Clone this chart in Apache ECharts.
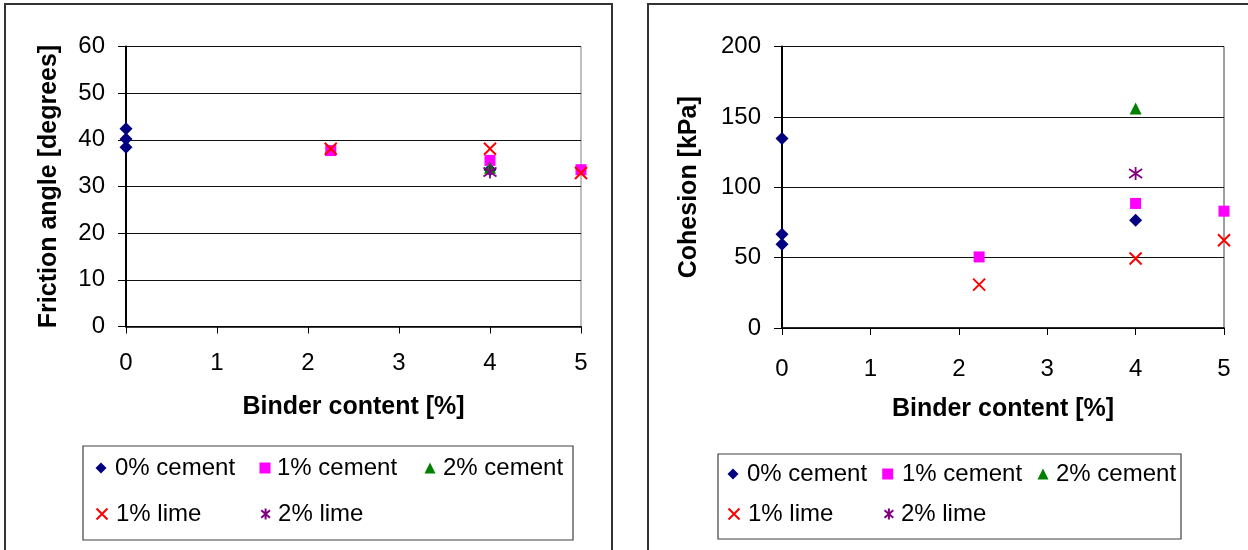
<!DOCTYPE html>
<html><head><meta charset="utf-8">
<script src="https://cdn.jsdelivr.net/npm/echarts@6/dist/echarts.min.js"></script>
<style>html,body{margin:0;padding:0;background:#fff}#c{width:1248px;height:550px}</style>
</head><body><div id="c"></div>
<script>
// ---------- DATA ----------
const seriesNames = ['0% cement', '1% cement', '2% cement', '1% lime', '2% lime'];
const xTicks = [0, 1, 2, 3, 4, 5];
const frictionTicks = [0, 10, 20, 30, 40, 50, 60];
const cohesionTicks = [0, 50, 100, 150, 200];
const xTitle = 'Binder content [%]';
const frictionTitle = 'Friction angle [degrees]';
const cohesionTitle = 'Cohesion [kPa]';

// Friction angle [degrees] vs binder content [%]
const fric0Cement = [[4, 33.6], [0, 42.4], [0, 40.2], [0, 38.4]];
const fric1Cement = [[2.25, 37.7], [4, 35.6], [5, 33.6]];
const fric2Cement = [[4, 34.0]];
const fric1Lime   = [[2.25, 38.1], [4, 38.1], [5, 32.9]];
const fric2Lime   = [[4, 33.1]];

// Cohesion [kPa] vs binder content [%]
const coh0Cement = [[0, 134.7], [0, 66.6], [0, 59.5], [4, 76.6]];
const coh1Cement = [[2.23, 50.5], [4, 88.5], [5, 83.0]];
const coh2Cement = [[4, 156.0]];
const coh1Lime   = [[2.23, 30.8], [4, 49.4], [5, 62.4]];
const coh2Lime   = [[4, 109.8]];

const frictionData = [fric0Cement, fric1Cement, fric2Cement, fric1Lime, fric2Lime];
const cohesionData = [coh0Cement, coh1Cement, coh2Cement, coh1Lime, coh2Lime];

// ---------- STYLE ----------
const FONT = "'Liberation Sans', Arial, sans-serif";
const markerStyles = [
  {symbol: 'diamond', symbolSize: 13, itemStyle: {color: '#000080', opacity: 1}},
  {symbol: 'rect', symbolSize: 11, itemStyle: {color: '#FF00FF', opacity: 1}},
  {symbol: 'triangle', symbolSize: 12, itemStyle: {color: '#008000', opacity: 1}},
  {symbol: 'path://M0,0L10,10M10,0L0,10', symbolSize: 12,
   itemStyle: {color: 'rgba(0,0,0,0)', borderColor: '#FF0000', borderWidth: 2, opacity: 1}},
  {symbol: 'path://M5,0L5,10M1,1.5L9,8.5M9,1.5L1,8.5', symbolSize: 13,
   itemStyle: {color: 'rgba(0,0,0,0)', borderColor: '#800080', borderWidth: 1.8, opacity: 1}}
];

// legend layout: [iconCenterX, rowCenterY, textPadLeft]
const legendLayoutLeft  = [[101, 468, 3.5], [265, 468, 1.5], [430, 468, 2.5], [101, 514, 3.5], [265.7, 514, 2]];
const legendLayoutRight = [[733, 474, 3.5], [887.7, 474, 3.8], [1043, 474, 2.5], [733, 514, 3.5], [889, 514, 1.5]];

function makeLegends(layout) {
  return layout.map((p, i) => ({
    data: [seriesNames[i]],
    left: p[0] - 5.5,
    top: p[1] - 12,
    padding: 0,
    itemWidth: 11,
    itemHeight: 11,
    selectedMode: false,
    itemStyle: {opacity: 1},
    textStyle: {fontFamily: FONT, fontSize: 24, color: '#000', lineHeight: 24, padding: [0, 0, 0, p[2]]}
  }));
}

function makeX(idx, nameGap, labelMargin) {
  return {
    type: 'value', gridIndex: idx,
    min: xTicks[0], max: xTicks[xTicks.length - 1], interval: xTicks[1] - xTicks[0],
    name: xTitle, nameLocation: 'middle', nameGap: nameGap,
    nameTextStyle: {fontFamily: FONT, fontSize: 25, fontWeight: 'bold', color: '#000'},
    axisLine: {show: true, onZero: false, lineStyle: {color: '#000', width: 1.5}},
    axisTick: {show: true, length: 7, lineStyle: {color: '#000', width: 1}},
    axisLabel: {fontFamily: FONT, fontSize: 24, color: '#000', margin: labelMargin},
    splitLine: {show: false}
  };
}
function makeY(idx, ticks, title, nameGap) {
  return {
    type: 'value', gridIndex: idx,
    min: ticks[0], max: ticks[ticks.length - 1], interval: ticks[1] - ticks[0],
    name: title, nameLocation: 'middle', nameGap: nameGap, nameRotate: 90,
    nameTextStyle: {fontFamily: FONT, fontSize: 25, fontWeight: 'bold', color: '#000'},
    axisLine: {show: true, onZero: false, lineStyle: {color: '#000', width: 2}},
    axisTick: {show: true, length: 8, lineStyle: {color: '#000', width: 1}},
    axisLabel: {fontFamily: FONT, fontSize: 24, color: '#000', margin: 21},
    splitLine: {show: true, lineStyle: {color: '#111', width: 1}}
  };
}

function makeSeries(dataSets, idx) {
  return dataSets.map((d, i) => Object.assign({
    type: 'scatter', name: seriesNames[i],
    xAxisIndex: idx, yAxisIndex: idx,
    data: d, z: 3 + i,
    emphasis: {disabled: true}
  }, markerStyles[i]));
}

const chart = echarts.init(document.getElementById('c'), null, {renderer: 'canvas'});
chart.setOption({
  animation: false,
  backgroundColor: '#fff',
  grid: [
    {left: 126, top: 46.5, width: 455, height: 280, show: true, borderColor: '#808080', borderWidth: 1},
    {left: 782, top: 46.5, width: 442, height: 281.5, show: true, borderColor: '#404040', borderWidth: 1}
  ],
  xAxis: [makeX(0, 68, 25), makeX(1, 69, 29)],
  yAxis: [makeY(0, frictionTicks, frictionTitle, 64), makeY(1, cohesionTicks, cohesionTitle, 80)],
  legend: makeLegends(legendLayoutLeft).concat(makeLegends(legendLayoutRight)),
  graphic: [
    {type: 'rect', shape: {x: 5, y: 4, width: 607, height: 580}, style: {fill: 'none', stroke: '#333', lineWidth: 2}, silent: true},
    {type: 'rect', shape: {x: 648, y: 4, width: 640, height: 580}, style: {fill: 'none', stroke: '#333', lineWidth: 2}, silent: true},
    {type: 'rect', shape: {x: 83, y: 446, width: 490, height: 94}, style: {fill: 'none', stroke: '#404040', lineWidth: 1.2}, silent: true},
    {type: 'rect', shape: {x: 718, y: 454, width: 463, height: 85}, style: {fill: 'none', stroke: '#404040', lineWidth: 1.2}, silent: true}
  ],
  series: makeSeries(frictionData, 0).concat(makeSeries(cohesionData, 1))
});
</script>
</body></html>
